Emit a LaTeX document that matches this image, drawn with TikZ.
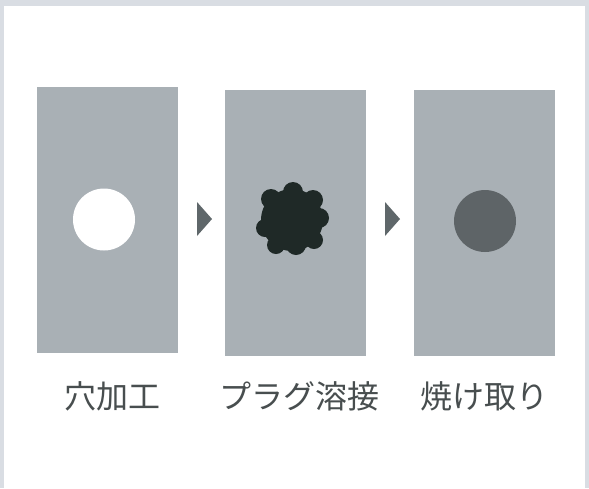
\documentclass[tikz,border=0pt]{standalone}
\usepackage{fontspec}
\newfontfamily\jpfont{Noto Sans CJK JP}
\definecolor{framegray}{HTML}{D9DDE3}
\definecolor{panelgray}{HTML}{A9B0B5}
\definecolor{plugblack}{HTML}{1F2927}
\definecolor{burngray}{HTML}{5E6467}
\definecolor{arrowgray}{HTML}{5F676A}
\definecolor{textgray}{HTML}{484E4F}

\begin{document}
\begin{tikzpicture}[x=1pt,y=-1pt,
    panel/.style={fill=panelgray, inner sep=0pt, minimum width=141pt, minimum height=266pt, anchor=north west},
    stepname/.style={font=\jpfont\fontsize{32pt}{32pt}\selectfont, text=textgray, inner sep=0pt}]

  % frame
  \fill[framegray] (0,0) rectangle (589,488);
  \fill[white] (4,6) rectangle (585,488);
  \useasboundingbox (0,0) rectangle (589,488);

  % panels
  \node[panel] (hole) at (36.5,87) {};
  \node[panel] (plug) at (225,89.5) {};
  \node[panel] (burn) at (414,89.5) {};

  \fill[white] (104,219.5) circle (31pt);

  \fill[plugblack] (292,220) circle (31pt);
  \fill[plugblack] (293,192) circle (10pt);
  \fill[plugblack] (271,199) circle (10pt);
  \fill[plugblack] (313,200) circle (10pt);
  \fill[plugblack] (265,228) circle (9pt);
  \fill[plugblack] (319,218) circle (10pt);
  \fill[plugblack] (276,245) circle (9pt);
  \fill[plugblack] (296,245) circle (10pt);
  \fill[plugblack] (314,240) circle (9pt);

  \fill[burngray] (485,221) circle (31pt);

  % arrows
  \fill[arrowgray] (197,202) -- (212,219) -- (197,236) -- cycle;
  \fill[arrowgray] (385,202) -- (400,219) -- (385,236) -- cycle;

  % names
  \node[stepname] (holetext) at (112,396) {穴加工};
  \node[stepname] (plugtext) at (299,396) {プラグ溶接};
  \node[stepname] (burntext) at (484.5,396) {焼け取り};
\end{tikzpicture}
\end{document}
